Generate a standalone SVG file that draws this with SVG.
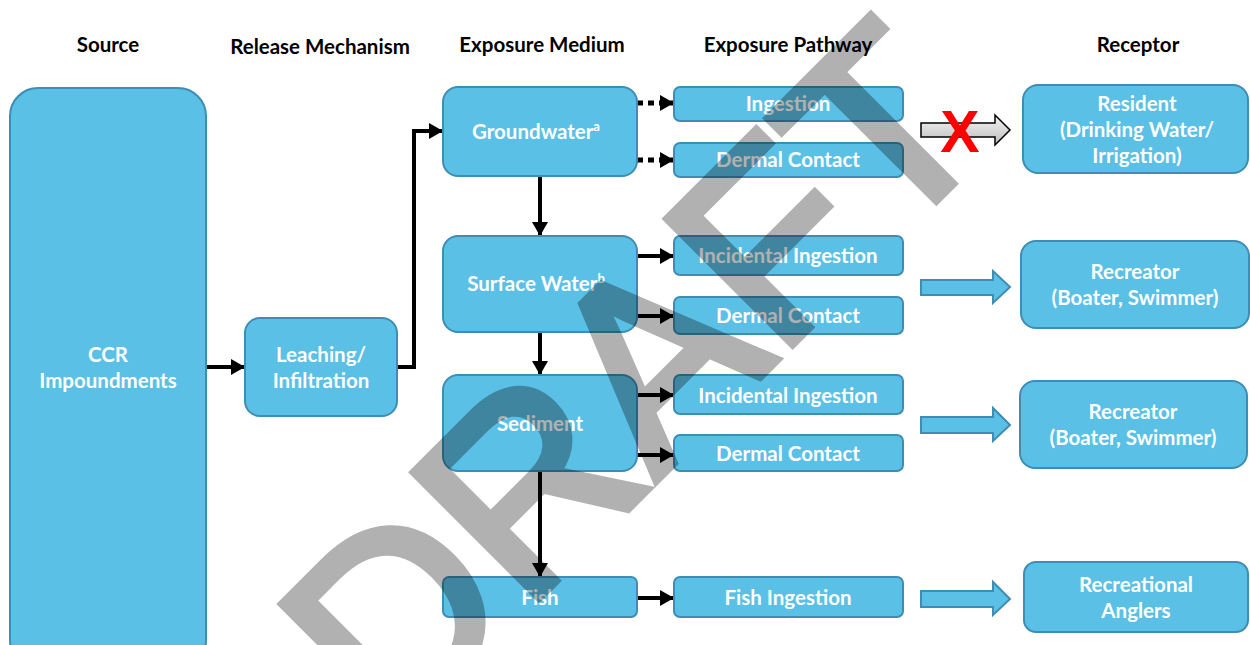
<svg xmlns="http://www.w3.org/2000/svg" width="1250" height="645" viewBox="0 0 1250 645">
<style>
.hdr{font-family:Lato,"Liberation Sans",sans-serif;font-weight:700;font-size:20.5px;fill:#000;text-anchor:middle}
.box{fill:#5BC0E6;stroke:#3D8DB5;stroke-width:2}
.lbl{font-family:Lato,"Liberation Sans",sans-serif;font-weight:700;font-size:20.5px;fill:#fff;text-anchor:middle}
.sup{font-size:13px}
.con{fill:none;stroke:#000;stroke-width:4}
.dot{fill:none;stroke:#000;stroke-width:5;stroke-dasharray:6 5}
.blk{fill:#5BC0E6;stroke:#3D8DB5;stroke-width:2}
</style>
<defs>
<marker id="ah" markerUnits="userSpaceOnUse" markerWidth="14" markerHeight="16" refX="14" refY="8" orient="auto"><path d="M0,0 L14,8 L0,16 z" fill="#000"/></marker>
<linearGradient id="gg" x1="0" y1="0" x2="0" y2="1"><stop offset="0" stop-color="#f4f4f4"/><stop offset="1" stop-color="#bdbdbd"/></linearGradient>
</defs>
<rect width="1250" height="645" fill="#fff"/>
<g id="headers">
<text class="hdr" x="108" y="52">Source</text>
<text class="hdr" x="320" y="54">Release Mechanism</text>
<text class="hdr" x="542" y="52">Exposure Medium</text>
<text class="hdr" x="788" y="52">Exposure Pathway</text>
<text class="hdr" x="1138" y="52">Receptor</text>
</g>
<g id="connectors">
<path class="con" d="M206,367 H245" marker-end="url(#ah)"/>
<path class="con" d="M397,367 H414 V131 H443" marker-end="url(#ah)"/>
<path class="dot" d="M637,103 H674" marker-end="url(#ah)"/>
<path class="dot" d="M637,160 H674" marker-end="url(#ah)"/>
<path class="con" d="M540,176 V236" marker-end="url(#ah)"/>
<path class="con" d="M637,256 H674" marker-end="url(#ah)"/>
<path class="con" d="M637,316 H674" marker-end="url(#ah)"/>
<path class="con" d="M540,332 V375" marker-end="url(#ah)"/>
<path class="con" d="M637,395 H674" marker-end="url(#ah)"/>
<path class="con" d="M637,455 H674" marker-end="url(#ah)"/>
<path class="con" d="M540,471 V577" marker-end="url(#ah)"/>
<path class="con" d="M637,598 H674" marker-end="url(#ah)"/>
<path d="M921,123 H995 V115 L1010,130 L995,145 V137 H921 Z" fill="url(#gg)" stroke="#000" stroke-width="1.5"/>
<path class="blk" d="M921,280 H993 V271 L1010,287 L993,303 V295 H921 Z"/>
<path class="blk" d="M921,417 H993 V408 L1010,425 L993,441 V433 H921 Z"/>
<path class="blk" d="M921,591 H993 V582 L1010,599 L993,615 V607 H921 Z"/>
<text x="960" y="152" font-family="'Liberation Sans',sans-serif" font-weight="700" font-size="59" fill="#ff0000" text-anchor="middle">X</text>
</g>
<g id="n-ccr"><rect class="box" x="10" y="88" width="196" height="580" rx="28"/><text class="lbl" x="108" y="362">CCR</text><text class="lbl" x="108" y="388">Impoundments</text></g>
<g id="n-leach"><rect class="box" x="245" y="318" width="152" height="98" rx="15"/><text class="lbl" x="321" y="362">Leaching/</text><text class="lbl" x="321" y="388">Infiltration</text></g>
<g id="n-gw"><rect class="box" x="443" y="87" width="194" height="89" rx="15"/><text class="lbl" x="536" y="139">Groundwater<tspan class="sup" dy="-8">a</tspan></text></g>
<g id="n-sw"><rect class="box" x="443" y="236" width="194" height="96" rx="15"/><text class="lbl" x="536" y="291">Surface Water<tspan class="sup" dy="-8">b</tspan></text></g>
<g id="n-sed"><rect class="box" x="443" y="375" width="194" height="96" rx="15"/><text class="lbl" x="540" y="431">Sediment</text></g>
<g id="n-fish"><rect class="box" x="443" y="577" width="194" height="40" rx="6"/><text class="lbl" x="540" y="605">Fish</text></g>
<g id="n-ing"><rect class="box" x="674" y="87" width="229" height="34" rx="6"/><text class="lbl" x="788" y="111">Ingestion</text></g>
<g id="n-dc1"><rect class="box" x="674" y="143" width="229" height="34" rx="6"/><text class="lbl" x="788" y="167">Dermal Contact</text></g>
<g id="n-ii1"><rect class="box" x="674" y="236" width="229" height="39" rx="6"/><text class="lbl" x="788" y="263">Incidental Ingestion</text></g>
<g id="n-dc2"><rect class="box" x="674" y="297" width="229" height="37" rx="6"/><text class="lbl" x="788" y="323">Dermal Contact</text></g>
<g id="n-ii2"><rect class="box" x="674" y="375" width="229" height="39" rx="6"/><text class="lbl" x="788" y="403">Incidental Ingestion</text></g>
<g id="n-dc3"><rect class="box" x="674" y="435" width="229" height="36" rx="6"/><text class="lbl" x="788" y="461">Dermal Contact</text></g>
<g id="n-fi"><rect class="box" x="674" y="577" width="229" height="40" rx="6"/><text class="lbl" x="788" y="605">Fish Ingestion</text></g>
<g id="n-res"><rect class="box" x="1023" y="85" width="225" height="88" rx="15"/><text class="lbl" x="1137" y="111">Resident</text><text class="lbl" x="1137" y="137">(Drinking Water/</text><text class="lbl" x="1137" y="163">Irrigation)</text></g>
<g id="n-rec1"><rect class="box" x="1021" y="241" width="228" height="87" rx="15"/><text class="lbl" x="1135" y="279">Recreator</text><text class="lbl" x="1135" y="305">(Boater, Swimmer)</text></g>
<g id="n-rec2"><rect class="box" x="1020" y="381" width="227" height="87" rx="15"/><text class="lbl" x="1133" y="419">Recreator</text><text class="lbl" x="1133" y="445">(Boater, Swimmer)</text></g>
<g id="n-ang"><rect class="box" x="1024" y="562" width="224" height="70" rx="12"/><text class="lbl" x="1136" y="592">Recreational</text><text class="lbl" x="1136" y="618">Anglers</text></g>
<g id="watermark" opacity="0.3"><text x="0" y="0" transform="translate(392.5,744.5) rotate(-45)" font-family="'Liberation Sans',sans-serif" font-size="258" fill="#000" stroke="#000" stroke-width="8" stroke-linejoin="miter">DRAFT</text></g>
</svg>
